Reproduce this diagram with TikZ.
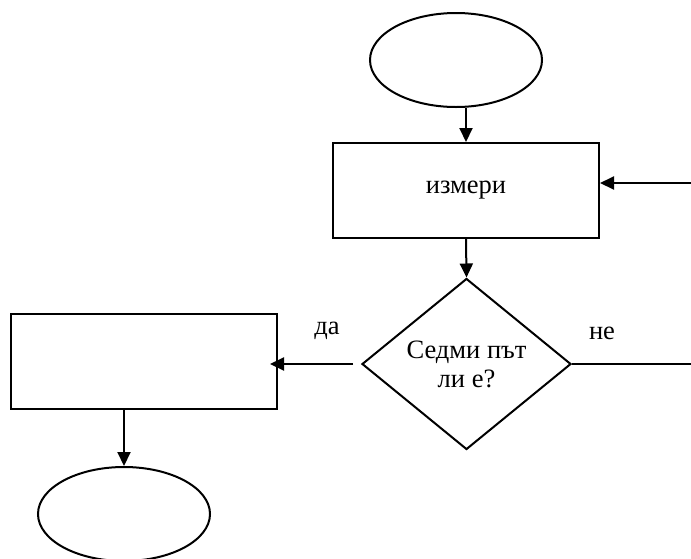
\documentclass[tikz,border=0pt]{standalone}
\usepackage{fontspec}
\setmainfont{Liberation Serif}
\usetikzlibrary{shapes.geometric,arrows.meta}
\begin{document}
\begin{tikzpicture}[x=1pt,y=-1pt,
  line width=2pt,
  every node/.style={font=\fontsize{26.5}{29}\selectfont},
  terminal/.style={draw,ellipse,minimum width=172pt,minimum height=94pt,inner sep=0pt},
  process/.style={draw,rectangle,minimum width=266pt,minimum height=95pt,inner sep=0pt},
  decision/.style={draw,diamond,minimum width=209pt,minimum height=171pt,inner sep=0pt,align=center},
  arr/.style={-{Triangle[length=14pt,width=13pt]}},
  lbl/.style={inner sep=0pt}]
\useasboundingbox (0,0) rectangle (691,558);
\node[terminal] (start) at (456,60) {};
\node[process] (measure) at (466,190.5) {измери};
\node[decision] (dec) at (466.5,364) {Седми път\\ли е?};
\node[process] (yesbox) at (144,361) {};
\node[terminal] (stop) at (124,514) {};
\coordinate (inR) at (691,183);
\coordinate (outR) at (691,362);
\draw[arr] (measure.north |- start.south) -- (measure.north);
\draw[arr] (inR) -- (inR -| measure.east);
\draw[arr] (measure.south) -- (dec.north);
\draw[arr] ([xshift=-8pt]dec.west) -- ([xshift=-8pt]dec.west -| yesbox.east);
\draw (dec.east) -- (dec.east -| outR);
\draw[arr] (yesbox.south -| stop.north) -- (stop.north);
\node[lbl] (da) at (327,331) {да};
\node[lbl] (ne) at (602,333) {не};
\end{tikzpicture}
\end{document}
